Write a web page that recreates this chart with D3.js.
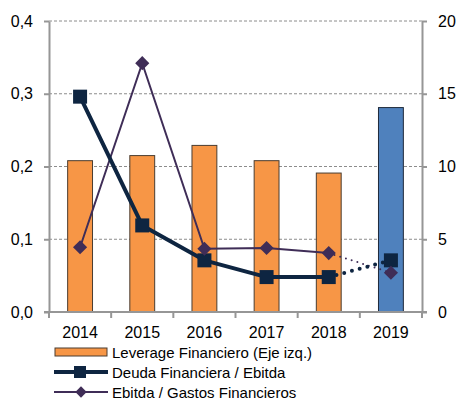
<!DOCTYPE html>
<html>
<head>
<meta charset="utf-8">
<script src="https://cdn.jsdelivr.net/npm/d3@7"></script>
<style>
  body { margin: 0; background: #fff; }
  svg text { font-family: "Liberation Sans", Arial, sans-serif; fill: #000; }
</style>
</head>
<body>
<svg id="chart" width="461" height="400"></svg>
<script>
// data
let years = ['2014', '2015', '2016', '2017', '2018', '2019']
let leverage = [0.208, 0.215, 0.229, 0.208, 0.191, 0.281]
let deudaEbitda = [14.8, 5.95, 3.55, 2.4, 2.4, 3.55]
let ebitdaGastos = [4.45, 17.1, 4.35, 4.4, 4.05, 2.7]
let leftTicks = [0, 0.1, 0.2, 0.3, 0.4]
let rightTicks = [0, 5, 10, 15, 20]
let legendLabels = ['Leverage Financiero (Eje izq.)', 'Deuda Financiera / Ebitda', 'Ebitda / Gastos Financieros']

let svg = d3.select('#chart')

let margin = { left: 49, right: 422, top: 21, bottom: 312 }

let x = d3.scaleBand()
  .domain(years)
  .range([margin.left, margin.right])
  .paddingInner(0.6)
  .paddingOuter(0.3)

let band = d3.scaleBand().domain(years).range([margin.left, margin.right])

let yLeft = d3.scaleLinear().domain([0, 0.4]).range([margin.bottom, margin.top])
let yRight = d3.scaleLinear().domain([0, 20]).range([margin.bottom, margin.top])

// grid lines
svg.append('g')
  .selectAll('line')
  .data(leftTicks.slice(1))
  .enter()
  .append('line')
  .attr('x1', margin.left)
  .attr('x2', margin.right)
  .attr('y1', d => yLeft(d))
  .attr('y2', d => yLeft(d))
  .attr('stroke', '#8c8c8c')
  .attr('stroke-width', 1)
  .attr('stroke-dasharray', '3,2')

// bars
svg.append('g')
  .selectAll('rect')
  .data(leverage)
  .enter()
  .append('rect')
  .attr('x', (d, i) => x(years[i]))
  .attr('y', d => yLeft(d))
  .attr('width', x.bandwidth())
  .attr('height', d => yLeft(0) - yLeft(d))
  .attr('fill', (d, i) => i == 5 ? '#4f81bd' : '#f79646')
  .attr('stroke', (d, i) => i == 5 ? '#1f2a3a' : '#4a3c30')
  .attr('stroke-width', 1)

// axes
let leftAxis = d3.axisLeft(yLeft).tickValues(leftTicks)
  .tickFormat(d => d3.format('.1f')(d).replace('.', ','))
  .tickSizeOuter(0).tickSizeInner(5).tickPadding(11)
let rightAxis = d3.axisRight(yRight).tickValues(rightTicks)
  .tickSizeOuter(0).tickSizeInner(5).tickPadding(11)

let gl = svg.append('g').attr('transform', `translate(${margin.left},0)`).call(leftAxis)
let gr = svg.append('g').attr('transform', `translate(${margin.right},0)`).call(rightAxis)

;[gl, gr].forEach(g => {
  g.select('.domain').attr('stroke', '#969696').attr('stroke-width', 2)
  g.selectAll('.tick line').attr('stroke', '#969696').attr('stroke-width', 2)
  g.selectAll('.tick text').attr('font-size', 16).attr('font-family', '"Liberation Sans", Arial, sans-serif')
})
gr.selectAll('.tick text').attr('font-family', '"Open Sans", sans-serif').attr('font-size', 16)

// x axis with ticks between categories
let bottom = svg.append('g')
bottom.append('line')
  .attr('x1', margin.left - 5).attr('x2', margin.right + 5)
  .attr('y1', margin.bottom).attr('y2', margin.bottom)
  .attr('stroke', '#969696').attr('stroke-width', 2)
bottom.selectAll('line.tk')
  .data(years.concat(['end']))
  .enter()
  .append('line')
  .attr('class', 'tk')
  .attr('x1', (d, i) => margin.left + i * band.bandwidth())
  .attr('x2', (d, i) => margin.left + i * band.bandwidth())
  .attr('y1', margin.bottom)
  .attr('y2', margin.bottom + 6)
  .attr('stroke', '#969696').attr('stroke-width', 2)
bottom.selectAll('text')
  .data(years)
  .enter()
  .append('text')
  .attr('x', d => band(d) + band.bandwidth() / 2)
  .attr('y', 338)
  .attr('text-anchor', 'middle')
  .attr('font-size', 16)
  .text(d => d)

let cx = d => band(d) + band.bandwidth() / 2

// lines: solid up to 2018, dotted 2018-2019
function drawSeries(values, color, width, dash) {
  let pts = values.map((v, i) => [cx(years[i]), yRight(v)])
  let line = d3.line()
  svg.append('path')
    .attr('d', line(pts.slice(0, 5)))
    .attr('fill', 'none')
    .attr('stroke', color)
    .attr('stroke-width', width)
    .attr('stroke-linejoin', 'round')
  svg.append('path')
    .attr('d', line(pts.slice(4)))
    .attr('fill', 'none')
    .attr('stroke', color)
    .attr('stroke-width', width)
    .attr('stroke-dasharray', dash)
    .attr('stroke-linecap', 'round')
  return pts
}

let ebitdaPts = drawSeries(ebitdaGastos, '#3f2d57', 2, '0,6')
let deudaPts = drawSeries(deudaEbitda, '#0e2541', 4, '0,8')

svg.append('g')
  .selectAll('rect')
  .data(deudaPts)
  .enter()
  .append('rect')
  .attr('x', d => d[0] - 7)
  .attr('y', d => d[1] - 7)
  .attr('width', 14)
  .attr('height', 14)
  .attr('fill', '#0e2541')

let diamond = d3.symbol().type(d3.symbolDiamond2).size(200)
svg.append('g')
  .selectAll('path')
  .data(ebitdaPts)
  .enter()
  .append('path')
  .attr('transform', d => `translate(${d[0]},${d[1]}) rotate(45)`)
  .attr('d', d3.symbol().type(d3.symbolSquare).size(100))
  .attr('fill', '#3f2d57')

// legend
let legend = svg.append('g')
let ly = [352, 372, 392]
legend.append('rect')
  .attr('x', 55).attr('y', ly[0] - 4)
  .attr('width', 52).attr('height', 8)
  .attr('fill', '#f79646').attr('stroke', '#4a3c30').attr('stroke-width', 1)
legend.append('line')
  .attr('x1', 54).attr('x2', 108).attr('y1', ly[1]).attr('y2', ly[1])
  .attr('stroke', '#0e2541').attr('stroke-width', 4)
legend.append('rect')
  .attr('x', 74).attr('y', ly[1] - 6).attr('width', 12).attr('height', 12)
  .attr('fill', '#0e2541')
legend.append('line')
  .attr('x1', 54).attr('x2', 108).attr('y1', ly[2]).attr('y2', ly[2])
  .attr('stroke', '#3f2d57').attr('stroke-width', 2)
legend.append('path')
  .attr('transform', `translate(81,${ly[2]}) rotate(45)`)
  .attr('d', d3.symbol().type(d3.symbolSquare).size(64))
  .attr('fill', '#3f2d57')
legend.selectAll('text')
  .data(legendLabels)
  .enter()
  .append('text')
  .attr('x', 112)
  .attr('y', (d, i) => ly[i] + 6)
  .attr('font-size', 15)
  .text(d => d)
</script>
</body>
</html>
